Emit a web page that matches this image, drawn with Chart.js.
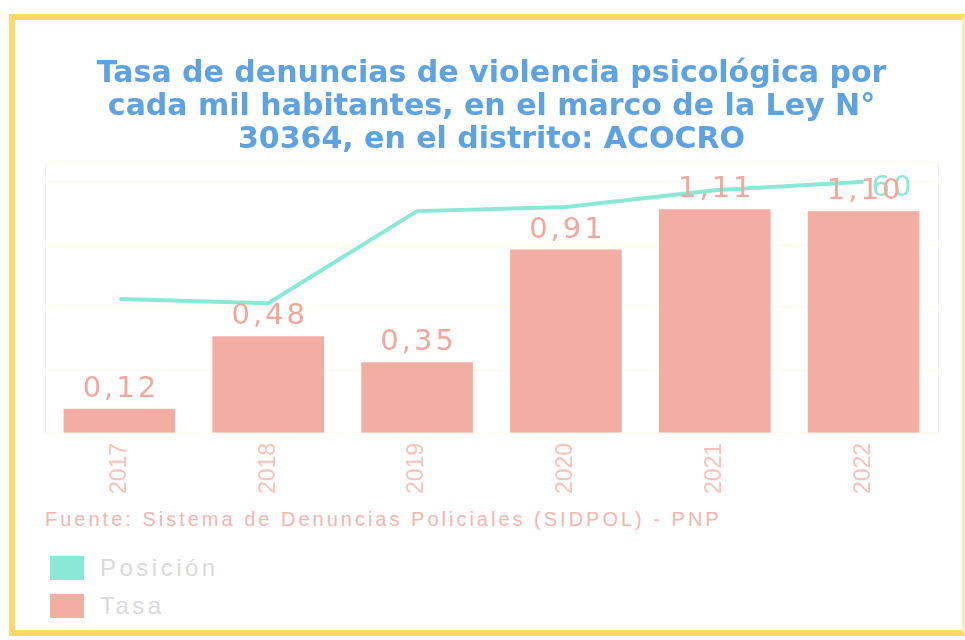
<!DOCTYPE html>
<html>
<head>
<meta charset="utf-8">
<script src="https://cdn.jsdelivr.net/npm/chart.js@4.4.1/dist/chart.umd.min.js"></script>
<style>
  html, body { margin: 0; padding: 0; background: #fff; }
  body { width: 965px; height: 640px; position: relative; overflow: hidden; font-family: "Liberation Sans", Arial, sans-serif; }
  .frame { position: absolute; left: 9px; top: 14px; width: 956px; height: 622px; box-sizing: border-box;
           border: 6px solid #fcd96a; border-right: 3px solid #fdeeb0; }
  .chart-box { position: absolute; left: 20px; top: 40px; width: 930px; height: 462px; }
  .source { position: absolute; left: 45px; top: 508px; font-size: 20px; letter-spacing: 3px; color: #f3b6ad; white-space: nowrap; }
  .legend { position: absolute; left: 50px; top: 549px; }
  .item { display: flex; align-items: center; height: 38px; }
  .swatch { width: 34px; height: 24px; margin-right: 16px; }
  .item span { font-size: 24px; letter-spacing: 3.5px; color: #dadada; }
</style>
</head>
<body>
<div class="frame"></div>
<div class="chart-box"><canvas id="chart"></canvas></div>
<div class="source">Fuente: Sistema de Denuncias Policiales (SIDPOL) - PNP</div>
<div class="legend" id="legend"></div>
<script>
const years = ['2017', '2018', '2019', '2020', '2021', '2022'];
const tasa = [0.12, 0.48, 0.35, 0.91, 1.11, 1.10];
const posicion = [32, 31, 53, 54, 58, 60];
const titleLines = [
  'Tasa de denuncias de violencia psicológica por',
  'cada mil habitantes, en el marco de la Ley N°',
  '30364, en el distrito: ACOCRO'
];

const lineColor = '#8ae8d6';
const barColor = '#f3aea4';

// bar values and the last line value, drawn on top
const valueLabels = {
  id: 'valueLabels',
  afterDraw(chart) {
    const ctx = chart.ctx;
    ctx.save();
    ctx.font = '29px "DejaVu Sans"';
    ctx.letterSpacing = '3px';
    ctx.textBaseline = 'alphabetic';

    const lineMeta = chart.getDatasetMeta(0);
    const last = lineMeta.data[lineMeta.data.length - 1];
    ctx.fillStyle = lineColor;
    ctx.textAlign = 'left';
    ctx.fillText(String(posicion[posicion.length - 1]), last.x + 8, last.y + 14);

    const barMeta = chart.getDatasetMeta(1);
    ctx.fillStyle = '#f0a89d';
    ctx.textAlign = 'center';
    barMeta.data.forEach((bar, i) => {
      ctx.fillText(tasa[i].toFixed(2).replace('.', ','), bar.x + 1.5, bar.y - 12);
    });
    ctx.restore();
  }
};

new Chart(document.getElementById('chart'), {
  data: {
    labels: years,
    datasets: [
      {
        type: 'line',
        label: 'Posición',
        data: posicion,
        yAxisID: 'y1',
        borderColor: lineColor,
        backgroundColor: lineColor,
        borderWidth: 4,
        pointRadius: 0,
        tension: 0,
        order: 0
      },
      {
        type: 'bar',
        label: 'Tasa',
        data: tasa,
        yAxisID: 'y',
        backgroundColor: barColor,
        categoryPercentage: 1,
        barPercentage: 0.75,
        order: 1
      }
    ]
  },
  plugins: [valueLabels],
  options: {
    responsive: true,
    maintainAspectRatio: false,
    animation: false,
    layout: { padding: { left: 25, right: 12, top: 0, bottom: 6 } },
    scales: {
      x: {
        grid: { display: false },
        border: { display: false },
        ticks: {
          color: '#f6c2ba',
          font: { family: 'Liberation Sans', size: 23 },
          minRotation: 90,
          maxRotation: 90,
          padding: 2
        }
      },
      y: {
        position: 'left',
        min: 0,
        max: 1.34,
        grid: { display: false, drawTicks: false },
        border: { display: true, color: '#f3f3f3' },
        ticks: { display: false }
      },
      y1: {
        position: 'right',
        min: 0,
        max: 64.5,
        z: 1,
        grid: { color: 'rgba(255, 250, 235, 0.65)', lineWidth: 2, drawTicks: false },
        border: { display: true, color: '#f3f3f3' },
        ticks: { display: false, stepSize: 15 }
      }
    },
    plugins: {
      legend: { display: false },
      tooltip: { enabled: false },
      title: {
        display: true,
        text: titleLines,
        color: '#5fa2e2',
        font: { family: 'DejaVu Sans', size: 30, weight: 'bold', lineHeight: 1.1 },
        padding: { top: 18, bottom: 6 }
      }
    }
  }
});

// legend list at the bottom, one item per row
const legendBox = document.getElementById('legend');
[['Posición', lineColor], ['Tasa', barColor]].forEach(([name, color]) => {
  const row = document.createElement('div');
  row.className = 'item';
  row.innerHTML = '<div class="swatch" style="background:' + color + '"></div><span>' + name + '</span>';
  legendBox.appendChild(row);
});
</script>
</body>
</html>
